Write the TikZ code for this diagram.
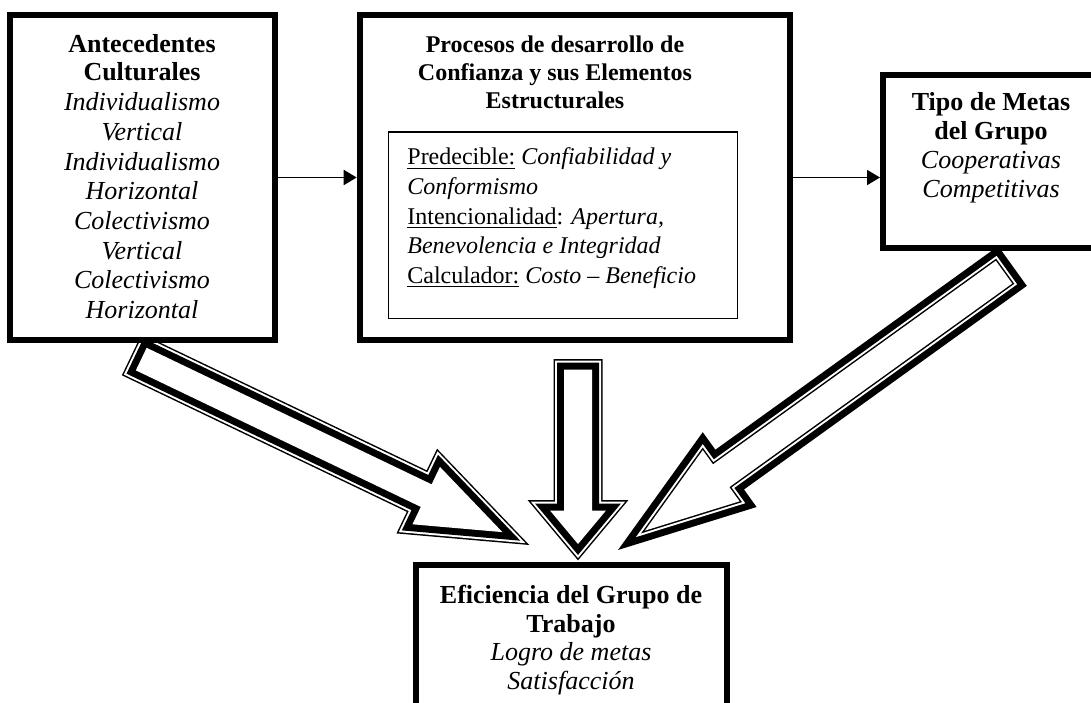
\documentclass[tikz,border=0pt]{standalone}
\usepackage{fontspec}
\setmainfont{Liberation Serif}
\usetikzlibrary{arrows.meta}
% block arrow outline: #1 back, #2 shaft half width, #3 head base, #4 head half width, #5 tip
\newcommand\blkpath[5]{(#1,#2) -- (#3,#2) -- (#3,#4) -- (#5,0) -- (#3,-#4) -- (#3,-#2) -- (#1,-#2) -- cycle}
% #1 origin, #2 angle, #3-#7 dims, #8 white band width, #9 inner black width
\newcommand\blockarrow[9]{%
  \begin{scope}[shift={#1},rotate=#2,line join=miter,miter limit=20]
    \draw[black,line width=10.5pt] \blkpath{#3}{#4}{#5}{#6}{#7};
    \draw[white,line width=#8] \blkpath{#3}{#4}{#5}{#6}{#7};
    \draw[black,line width=#9] \blkpath{#3}{#4}{#5}{#6}{#7};
    \fill[white] \blkpath{#3}{#4}{#5}{#6}{#7};
  \end{scope}}
\tikzset{
  box/.style={draw,line width=3pt,fill=white,rectangle,inner sep=0pt},
  innerbox/.style={draw,line width=0.8pt,rectangle,inner sep=0pt},
  txt/.style={inner sep=0pt,align=center,anchor=north,font=\fontsize{12}{14}\selectfont},
  conn/.style={line width=0.9pt,-{Triangle[length=6.5pt,width=7.5pt]}}
}
\begin{document}
\begin{tikzpicture}[x=0.5pt,y=-0.5pt]
\useasboundingbox (0,0) rectangle (1091,702);
\clip (0,0) rectangle (1091,702);
% block arrows
\blockarrow{(139,358)}{-25.6}{2.5}{12.5}{318.5}{31.8}{403}{9pt}{7pt}
\blockarrow{(578,359)}{-90}{10.5}{14}{151.5}{28}{185}{9pt}{7pt}
\blockarrow{(1012.5,266)}{215.75}{10.5}{14}{359}{31.5}{453}{3.5pt}{1.5pt}
% boxes
\node[box,minimum width=132.5pt,minimum height=162.5pt] (b1) at (142.5,177.5) {};
\node[box,minimum width=214.9pt,minimum height=162.5pt] (b2) at (574.6,177.5) {};
\node[box,minimum width=108pt,minimum height=86.25pt] (b3) at (991,161.25) {};
\node[box,minimum width=155.2pt,minimum height=77.5pt] (b4) at (571.5,642.5) {};
\node[innerbox,minimum width=174.5pt,minimum height=93.25pt] (ib) at (563,225.25) {};
% texts
\node[txt,font=\fontsize{13}{14.15}\selectfont] (t1) at (142,34.2) {\textbf{Antecedentes}\\\textbf{Culturales}\\[0.7pt]\textit{Individualismo}\\[0.7pt]\textit{Vertical}\\[0.7pt]\textit{Individualismo}\\[0.7pt]\textit{Horizontal}\\[0.7pt]\textit{Colectivismo}\\[0.7pt]\textit{Vertical}\\[0.7pt]\textit{Colectivismo}\\[0.7pt]\textit{Horizontal}};
\node[txt] (t2) at (555,35.6) {\textbf{Procesos de desarrollo de}\\\textbf{Confianza y sus Elementos}\\\textbf{Estructurales}};
\node[txt,align=left,anchor=north west] (t2b) at (407,147.5) {\underline{Predecible:} \textit{Confiabilidad y}\\[0.8pt]\textit{Conformismo}\\[0.8pt]\underline{Intencionalidad}: \textit{Apertura,}\\[0.8pt]\textit{Benevolencia e Integridad}\\[0.8pt]\underline{Calculador:} \textit{Costo – Beneficio}};
\node[txt,font=\fontsize{13}{14.5}\selectfont] (t3) at (991,92.2) {\textbf{Tipo de Metas}\\\textbf{del Grupo}\\\textit{Cooperativas}\\\textit{Competitivas}};
\node[txt,font=\fontsize{13}{14.2}\selectfont] (t4) at (571,585.2) {\textbf{Eficiencia del Grupo de}\\\textbf{Trabajo}\\\textit{Logro de metas}\\\textit{Satisfacción}};
% connectors
\draw[conn] (b1.east) -- (b2.west);
\draw[conn] (b2.east) -- (b2.east -| b3.west);
\end{tikzpicture}
\end{document}
